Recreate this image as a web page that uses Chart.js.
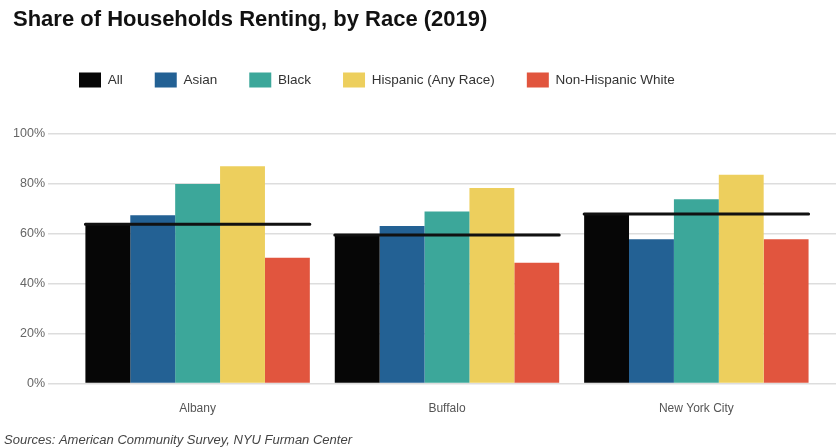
<!DOCTYPE html>
<html>
<head>
<meta charset="utf-8">
<title>Share of Households Renting, by Race (2019)</title>
<script src="https://cdn.jsdelivr.net/npm/chart.js@4"></script>
<style>
  body { margin: 0; background: #fff; }
  #wrap { width: 836px; height: 448px; }
</style>
</head>
<body>
<div id="wrap"><canvas id="renting-chart"></canvas></div>
<script>
const cities = ["Albany", "Buffalo", "New York City"];
const groups = ["All", "Asian", "Black", "Hispanic (Any Race)", "Non-Hispanic White"];
const colors = ["#060606", "#236194", "#3ca79a", "#edcf5d", "#e1553e"];
const allShare = [63.7, 59.4, 67.8];
const asianShare = [67.3, 63.0, 57.7];
const blackShare = [79.8, 68.8, 73.7];
const hispanicShare = [86.9, 78.2, 83.5];
const whiteShare = [50.3, 48.3, 57.7];
const yTicks = [0, 20, 40, 60, 80, 100];
const sourceText = "Sources: American Community Survey, NYU Furman Center";

const seriesValues = [allShare, asianShare, blackShare, hispanicShare, whiteShare];
const groupWidth = 0.9;

const barSets = groups.map((name, i) => ({
  type: "bar",
  label: name,
  data: seriesValues[i].map((v, j) => ({ x: j, y: v })),
  backgroundColor: colors[i],
  categoryPercentage: groupWidth,
  barPercentage: 1,
  order: 1,
}));

// black line for the "All" share drawn across each city group
const allLine = [];
allShare.forEach((v, j) => {
  allLine.push({ x: j - groupWidth / 2, y: v });
  allLine.push({ x: j + groupWidth / 2, y: v });
  allLine.push({ x: j + 0.5, y: null });
});

// ggplot-like placement of title and legend
const shiftBlocks = {
  id: "shiftBlocks",
  afterLayout(chart) {
    chart.titleBlock.left += 9;
    chart.titleBlock.right += 9;
    chart.legend.left += 43;
    chart.legend.right += 43;
  },
};

Chart.defaults.font.family = "'Liberation Sans', Arial, sans-serif";

new Chart(document.getElementById("renting-chart"), {
  data: {
    datasets: [
      ...barSets,
      {
        type: "line",
        label: "All (line)",
        data: allLine,
        borderColor: "#111111",
        borderWidth: 3,
        borderCapStyle: "round",
        pointRadius: 0,
        spanGaps: false,
        order: 0,
      },
    ],
  },
  options: {
    responsive: true,
    maintainAspectRatio: false,
    animation: false,
    layout: { padding: { left: 4, right: 0, top: 0, bottom: 0 } },
    scales: {
      x: {
        type: "linear",
        min: -0.6,
        max: 2.56,
        offset: false,
        grid: { display: false, drawTicks: false, offset: false },
        border: { display: false },
        afterBuildTicks: (scale) => {
          scale.ticks = cities.map((c, i) => ({ value: i }));
        },
        afterFit: (scale) => {
          scale.height = 45;
        },
        ticks: {
          padding: 18,
          color: "#555555",
          font: { size: 12 },
          callback: (value) => cities[value],
        },
      },
      gap: {
        type: "linear",
        axis: "x",
        position: "top",
        grid: { display: false, drawTicks: false },
        border: { display: false },
        ticks: { display: false },
        afterFit: (scale) => {
          scale.height = 36;
        },
      },
      y: {
        min: 0,
        max: 100,
        afterBuildTicks: (scale) => {
          scale.ticks = yTicks.map((v) => ({ value: v }));
        },
        afterFit: (scale) => {
          scale.width = 44;
        },
        grid: { color: "#dddddd", lineWidth: 1.5, drawTicks: false },
        border: { display: false },
        ticks: {
          padding: 3,
          color: "#666666",
          font: { size: 12.5 },
          callback: (value) => value + "%",
        },
      },
    },
    plugins: {
      title: {
        display: true,
        text: "Share of Households Renting, by Race (2019)",
        align: "start",
        color: "#111111",
        font: { size: 22, weight: "bold" },
        padding: { top: 7, bottom: 7 },
      },
      legend: {
        display: true,
        position: "top",
        align: "start",
        labels: {
          boxWidth: 22,
          boxHeight: 15,
          padding: 32,
          color: "#333333",
          font: { size: 13.5 },
          filter: (item) => item.datasetIndex < groups.length,
        },
      },
      subtitle: {
        display: true,
        position: "bottom",
        align: "start",
        text: sourceText,
        color: "#444444",
        font: { size: 13, style: "italic" },
        padding: { top: 4, bottom: 0 },
      },
      tooltip: { enabled: true },
    },
  },
  plugins: [shiftBlocks],
});
</script>
</body>
</html>
